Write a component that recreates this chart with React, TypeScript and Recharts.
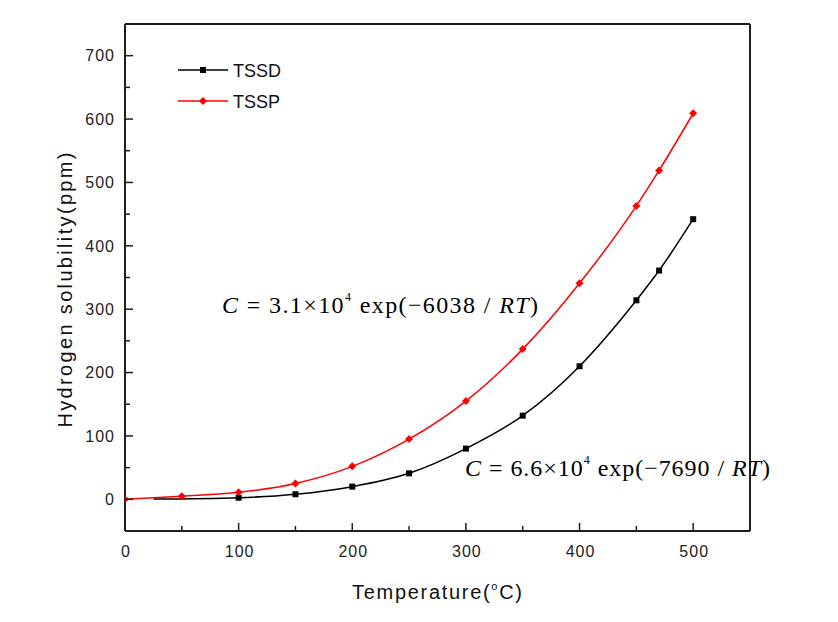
import React from "react";
import { LineChart, Line, XAxis, YAxis, ReferenceLine } from "recharts";

const xTicks = [0, 50, 100, 150, 200, 250, 300, 350, 400, 450, 500];
const yTicks = [-50, 0, 50, 100, 150, 200, 250, 300, 350, 400, 450, 500, 550, 600, 650, 700];

const tsspTemps = [0, 50, 100, 150, 200, 250, 300, 350, 400, 450, 470, 500];
const tsspValues = [0, 5, 11, 25, 52, 95, 155, 237, 341, 463, 519, 609];

const tssdTemps = [25, 100, 150, 200, 250, 300, 350, 400, 450, 470, 500];
const tssdValues = [0.3, 2.5, 8, 20, 41, 80, 132, 210, 314, 361, 442];

const tsspData = tsspTemps.map((t, i) => ({ t, v: tsspValues[i] }));
const tssdData = tssdTemps.map((t, i) => ({ t, v: tssdValues[i] }));

const W = 838;
const H = 622;
const AX = "#1e1e1e";
const SANS = "Arial, 'Liberation Sans', sans-serif";
const SERIF = "'Times New Roman', 'Liberation Serif', serif";

const XTick = (props: any) => {
  const { x, y, payload } = props;
  const v = payload.value;
  const major = v % 100 === 0;
  return (
    <g>
      <line x1={x} x2={x} y1={y} y2={y - (major ? 8 : 5)} stroke={AX} strokeWidth={1.5} />
      {major && (
        <text x={x + 1} y={y + 26} textAnchor="middle" fontSize={16} letterSpacing={1} fontFamily={SANS} fill="#222">
          {v}
        </text>
      )}
    </g>
  );
};

const YTick = (props: any) => {
  const { x, y, payload } = props;
  const v = payload.value;
  const major = v % 100 === 0;
  if (v < 0) return <g />;
  return (
    <g>
      <line x1={x} x2={x + (major ? 8 : 5)} y1={y} y2={y} stroke={AX} strokeWidth={1.5} />
      {major && (
        <text x={x - 10} y={y} dy="0.36em" textAnchor="end" fontSize={16} letterSpacing={1} fontFamily={SANS} fill="#222">
          {v}
        </text>
      )}
    </g>
  );
};

const Square = (props: any) => {
  const { cx, cy, index } = props;
  if (index === 0 || cx == null) return <g key={`s-${index}`} />;
  return <rect key={`s-${index}`} x={cx - 3} y={cy - 3} width={6} height={6} fill="#000" />;
};

const Diamond = (props: any) => {
  const { cx, cy, index } = props;
  if (cx == null) return <g key={`d-${index}`} />;
  return (
    <path
      key={`d-${index}`}
      d={`M${cx},${cy - 4} L${cx + 4},${cy} L${cx},${cy + 4} L${cx - 4},${cy} Z`}
      fill="#ff0000"
    />
  );
};

export default function App() {
  return (
    <div style={{ position: "relative", width: W, height: H }}>
      <LineChart width={W} height={H} margin={{ top: 16, right: 96, bottom: 59, left: 57 }}>
        <XAxis
          xAxisId="b"
          type="number"
          dataKey="t"
          domain={[0, 550]}
          ticks={xTicks}
          tick={XTick}
          tickSize={0}
          tickMargin={0}
          tickLine={false}
          axisLine={{ stroke: AX, strokeWidth: 2 }}
          height={40}
          allowDataOverflow
        />
        <YAxis
          yAxisId="l"
          type="number"
          domain={[-50, 750]}
          ticks={yTicks}
          tick={YTick}
          tickSize={0}
          tickMargin={0}
          tickLine={false}
          axisLine={{ stroke: AX, strokeWidth: 2 }}
          width={60}
          allowDataOverflow
        />
        <ReferenceLine xAxisId="b" yAxisId="l" y={750} stroke={AX} strokeWidth={2} ifOverflow="visible" />
        <ReferenceLine xAxisId="b" yAxisId="l" x={550} stroke={AX} strokeWidth={2} ifOverflow="visible" />
        <Line
          xAxisId="b"
          yAxisId="l"
          data={tssdData}
          dataKey="v"
          type="monotone"
          stroke="#000"
          strokeWidth={1.5}
          dot={Square}
          isAnimationActive={false}
        />
        <Line
          xAxisId="b"
          yAxisId="l"
          data={tsspData}
          dataKey="v"
          type="monotone"
          stroke="#ff0000"
          strokeWidth={1.5}
          dot={Diamond}
          isAnimationActive={false}
        />
      </LineChart>
      <svg
        width={W}
        height={H}
        style={{ position: "absolute", left: 0, top: 0, pointerEvents: "none" }}
      >
        {/* legend */}
        <line x1={170} x2={220} y1={62} y2={62} stroke="#000" strokeWidth={1.5} />
        <rect x={192} y={59} width={6} height={6} fill="#000" />
        <text x={225} y={69} fontSize={18} fontFamily={SANS} fill="#111">TSSD</text>
        <line x1={170} x2={220} y1={93} y2={93} stroke="#ff0000" strokeWidth={1.5} />
        <path d="M195,89 L199,93 L195,97 L191,93 Z" fill="#ff0000" />
        <text x={225} y={100} fontSize={18} fontFamily={SANS} fill="#111">TSSP</text>

        {/* axis titles */}
        <text
          x={0}
          y={0}
          transform="translate(64,282) rotate(-90)"
          textAnchor="middle"
          fontSize={20}
          fontFamily={SANS}
          fill="#111"
          textLength={275}
          lengthAdjust="spacing"
        >
          Hydrogen solubility(ppm)
        </text>
        <text x={344} y={591} fontSize={20} fontFamily={SANS} fill="#111" textLength={170} lengthAdjust="spacing">
          Temperature(
          <tspan fontSize={11} dy={-9}>o</tspan>
          <tspan dy={9}>C)</tspan>
        </text>

        {/* equations */}
        <text x={214} y={305} fontSize={24} fontFamily={SERIF} fill="#000" textLength={316} lengthAdjust="spacing">
          <tspan fontStyle="italic">C</tspan>
          <tspan> = 3.1×10</tspan>
          <tspan fontSize={12} dy={-12}>4</tspan>
          <tspan dy={12}> exp(−6038 / </tspan>
          <tspan fontStyle="italic">RT</tspan>
          <tspan>)</tspan>
        </text>
        <text x={457} y={468} fontSize={24} fontFamily={SERIF} fill="#000" textLength={305} lengthAdjust="spacing">
          <tspan fontStyle="italic">C</tspan>
          <tspan> = 6.6×10</tspan>
          <tspan fontSize={12} dy={-12}>4</tspan>
          <tspan dy={12}> exp(−7690 / </tspan>
          <tspan fontStyle="italic">RT</tspan>
          <tspan>)</tspan>
        </text>
      </svg>
    </div>
  );
}
